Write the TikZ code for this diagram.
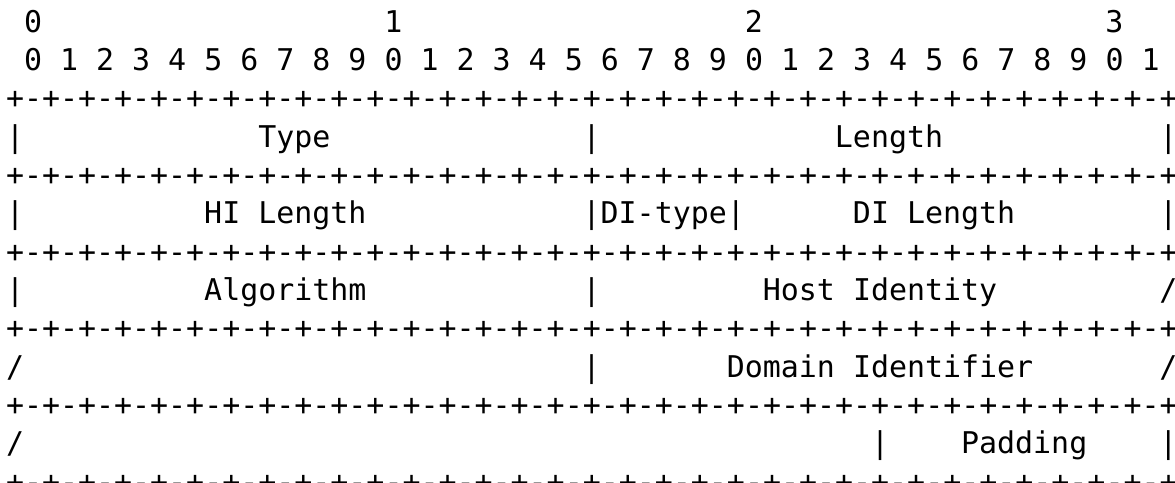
\documentclass[tikz,border=0pt]{standalone}
\usepackage{fontspec}
\newfontfamily\asciifont{DejaVu Sans Mono}
\newcommand{\halfrule}{+-+-+-+-+-+-+-+-+-+-+-+-+-+-+-+-}
\newcommand{\rulerow}{\halfrule\halfrule+}
\tikzset{
ascii/.style={inner sep=0pt, outer sep=0pt, anchor=base west,
  font=\asciifont\fontsize{14.97pt}{19pt}\selectfont},
}

\begin{document}
\begin{tikzpicture}[x=9.01pt, y=-19.17pt]
\useasboundingbox (-0.333,-0.835) rectangle (64.87,11.737);

% bit ruler
\node[ascii] (t0) at (1,0) {0};
\node[ascii] (t1) at (21,0) {1};
\node[ascii] (t2) at (41,0) {2};
\node[ascii] (t3) at (61,0) {3};
\node[ascii] (bits) at (1,1) {0 1 2 3 4 5 6 7 8 9 0 1 2 3 4 5 6 7 8 9 0 1 2 3 4 5 6 7 8 9 0 1};

% borders
\node[ascii] (rule0) at (0,2) {\rulerow};
\node[ascii] (rule1) at (0,4) {\rulerow};
\node[ascii] (rule2) at (0,6) {\rulerow};
\node[ascii] (rule3) at (0,8) {\rulerow};
\node[ascii] (rule4) at (0,10) {\rulerow};
\node[ascii] (rule5) at (0,12) {\rulerow};

% Type / Length
\node[ascii] (bar3a) at (0,3) {|};
\node[ascii] (type) at (14,3) {Type};
\node[ascii] (bar3b) at (32,3) {|};
\node[ascii] (len) at (46,3) {Length};
\node[ascii] (bar3c) at (64,3) {|};

% HI Length / DI-type / DI Length
\node[ascii] (bar5a) at (0,5) {|};
\node[ascii] (hilen) at (11,5) {HI Length};
\node[ascii] (bar5b) at (32,5) {|};
\node[ascii] (ditype) at (33,5) {DI-type};
\node[ascii] (bar5c) at (40,5) {|};
\node[ascii] (dilen) at (47,5) {DI Length};
\node[ascii] (bar5d) at (64,5) {|};

% Algorithm / Host Identity
\node[ascii] (bar7a) at (0,7) {|};
\node[ascii] (alg) at (11,7) {Algorithm};
\node[ascii] (bar7b) at (32,7) {|};
\node[ascii] (hi) at (42,7) {Host Identity};
\node[ascii] (sl7) at (64,7) {/};

% Domain Identifier
\node[ascii] (sl9a) at (0,9) {/};
\node[ascii] (bar9) at (32,9) {|};
\node[ascii] (di) at (40,9) {Domain Identifier};
\node[ascii] (sl9b) at (64,9) {/};

% Padding
\node[ascii] (sl11) at (0,11) {/};
\node[ascii] (bar11a) at (48,11) {|};
\node[ascii] (pad) at (53,11) {Padding};
\node[ascii] (bar11b) at (64,11) {|};
\end{tikzpicture}
\end{document}
